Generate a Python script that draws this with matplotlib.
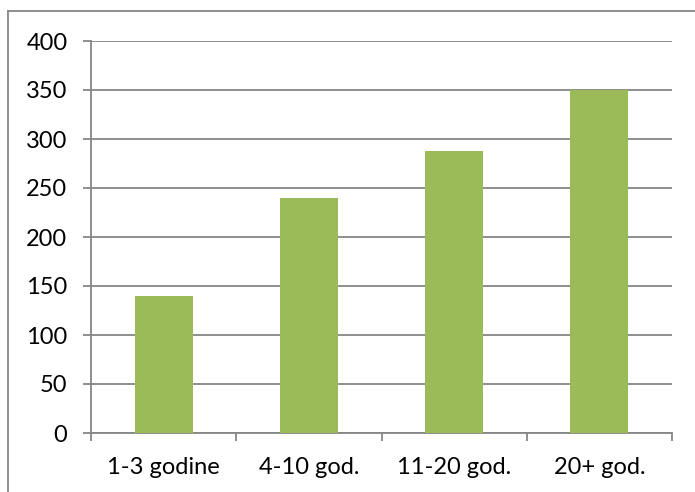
import matplotlib
matplotlib.use("Agg")
import matplotlib.pyplot as plt
import numpy as np

categories = ["1-3 godine", "4-10 god.", "11-20 god.", "20+ god."]
values = [140, 240, 288, 350]
y_ticks = [0, 50, 100, 150, 200, 250, 300, 350, 400]

plt.rcParams['font.family'] = ['Lato', 'DejaVu Sans']

W, H = 695, 492
fig = plt.figure(figsize=(W / 100, H / 100), dpi=100, facecolor='white')
ax = fig.add_axes([91 / W, 1 - 433 / H, (672 - 91) / W, (433 - 41) / H])

grid_col = '#868686'
x = np.arange(len(categories))
ax.bar(x, values, width=0.4, color='#9BBB59', zorder=3)

ax.set_xlim(-0.5, len(categories) - 0.5)
ax.set_ylim(0, 400)
ax.set_yticks(y_ticks)
ax.set_yticklabels([str(v) for v in y_ticks], fontsize=17)
ax.yaxis.grid(True, color=grid_col, linewidth=1.3, zorder=0)

# category labels centred, tick marks between categories
ax.set_xticks(x)
ax.set_xticklabels(categories, fontsize=17)
ax.tick_params(axis='x', length=0, pad=17)
ax.set_xticks(np.arange(len(categories) + 1) - 0.5, minor=True)
ax.tick_params(axis='x', which='minor', length=6, width=1.3, color=grid_col)
ax.tick_params(axis='y', length=6, width=1.3, color=grid_col, pad=11)

for s in ['top', 'right']:
    ax.spines[s].set_visible(False)
for s in ['left', 'bottom']:
    ax.spines[s].set_color(grid_col)
    ax.spines[s].set_linewidth(1.3)

# outer chart border
fig.add_artist(plt.Line2D([8 / W, 8 / W], [0, 1 - 11 / H], transform=fig.transFigure,
                          color=grid_col, linewidth=1.3))
fig.add_artist(plt.Line2D([8 / W, 1], [1 - 11 / H, 1 - 11 / H], transform=fig.transFigure,
                          color=grid_col, linewidth=1.3))

fig.savefig("out.png", dpi=100, facecolor='white')
